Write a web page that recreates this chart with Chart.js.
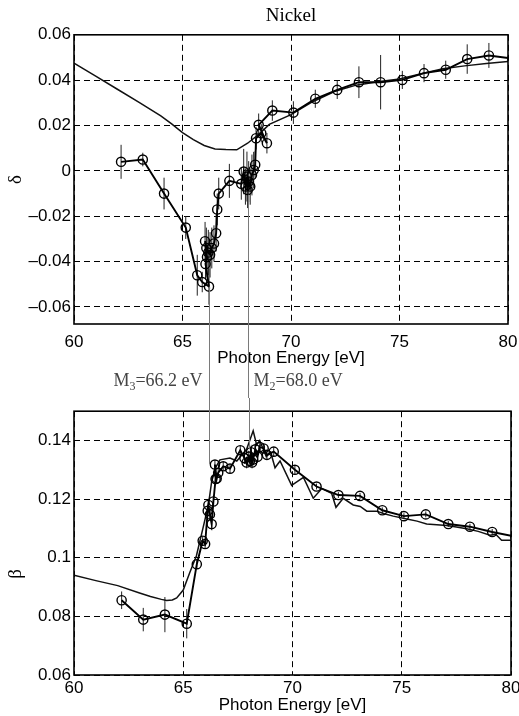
<!DOCTYPE html>
<html>
<head>
<meta charset="utf-8">
<script src="https://cdn.jsdelivr.net/npm/chart.js@4/dist/chart.umd.min.js"></script>
<style>
  html, body { margin: 0; padding: 0; background: #fff; }
  #wrap { position: relative; width: 519px; height: 716px; }
  #topChart { position: absolute; left: 0; top: 0; }
  #botChart { position: absolute; left: 0; top: 398px; }
</style>
</head>
<body>
<div id="wrap">
  <canvas id="topChart" width="519" height="398"></canvas>
  <canvas id="botChart" width="519" height="318"></canvas>
</div>
<script>
// photon energy axis (shared by both panels)
const energyTicks = [60, 65, 70, 75, 80];
const energyTickLabels = ['60', '65', '70', '75', '80'];

// delta panel
const deltaTicks = [-0.06, -0.04, -0.02, 0, 0.02, 0.04, 0.06];
const deltaTickLabels = ['\u20130.06', '\u20130.04', '\u20130.02', '0', '0.02', '0.04', '0.06'];
const deltaEnergy = [62.17, 63.17, 64.15, 65.15, 65.68, 65.91, 66.22, 66.06, 66.13, 66.04, 66.10, 66.19, 66.27, 66.35, 66.45, 66.55, 66.60, 66.67, 67.16, 67.71,
  67.82, 67.90, 67.97, 68.00, 68.05, 68.12, 68.20, 68.28, 68.35, 68.39, 68.63, 68.89, 68.51, 69.14, 70.11, 71.12, 72.13, 73.13, 74.13, 75.13,
  76.13, 77.13, 78.12, 79.12, 80.20];
const deltaValue = [0.0040, 0.0050, -0.0100, -0.0250, -0.0460, -0.0490, -0.0510, -0.0410, -0.0380, -0.0310, -0.0340, -0.0360, -0.0370, -0.0340, -0.0320, -0.0275, -0.0170, -0.0100, -0.0044, -0.0057,
  -0.0003, -0.0069, -0.0025, -0.0084, -0.0047, -0.0069, -0.0018, 0.0004, 0.0027, 0.0144, 0.0166, 0.0122, 0.0203, 0.0266, 0.0257, 0.0318, 0.0357, 0.0391, 0.0391, 0.0401,
  0.0431, 0.0446, 0.0493, 0.0509, 0.0495];
const deltaError = [0.0075, 0.0030, 0.0070, 0.0050, 0.0090, 0.0045, 0.0080, 0.0070, 0.0090, 0.0085, 0.0090, 0.0100, 0.0100, 0.0090, 0.0080, 0.0080, 0.0070, 0.0070, 0.0075, 0.0070,
  0.0100, 0.0080, 0.0110, 0.0080, 0.0090, 0.0080, 0.0090, 0.0080, 0.0060, 0.0050, 0.0040, 0.0045, 0.0050, 0.0045, 0.0050, 0.0040, 0.0040, 0.0070, 0.0120, 0.0040,
  0.0040, 0.0040, 0.0065, 0.0055, 0];
const deltaTheoryEnergy = [60, 61, 62, 63, 64, 64.5, 65, 65.5, 66, 66.5, 67, 67.5, 68, 68.5, 69, 70, 71, 72, 73, 74, 75, 76, 77, 78, 79, 80];
const deltaTheory = [0.0475, 0.0418, 0.0360, 0.0302, 0.0243, 0.0207, 0.0169, 0.0138, 0.0112, 0.0097, 0.0094, 0.0093, 0.0122, 0.0160, 0.0205, 0.0248, 0.0305, 0.0350, 0.0378, 0.0393,
  0.0405, 0.0428, 0.0450, 0.0463, 0.0473, 0.0482];

// beta panel
const betaTicks = [0.06, 0.08, 0.1, 0.12, 0.14];
const betaTickLabels = ['0.06', '0.08', '0.1', '0.12', '0.14'];
const betaEnergy = [62.18, 63.17, 64.16, 65.16, 65.62, 65.89, 66.00, 66.12, 66.15, 66.22, 66.30, 66.38, 66.48, 66.45, 66.53, 66.60, 66.83, 67.14, 67.61, 67.80,
  67.90, 68.00, 68.05, 68.10, 68.15, 68.20, 68.30, 68.40, 68.50, 68.68, 68.83, 69.14, 70.11, 71.10, 72.10, 73.09, 74.11, 75.10, 76.10, 77.13,
  78.12, 79.14, 80.20];
const betaValue = [0.0855, 0.0789, 0.0806, 0.0775, 0.0978, 0.1058, 0.1047, 0.1160, 0.1180, 0.1148, 0.1115, 0.1192, 0.1269, 0.1318, 0.1270, 0.1290, 0.1312, 0.1304, 0.1367, 0.1340,
  0.1325, 0.1345, 0.1330, 0.1360, 0.1325, 0.1335, 0.1370, 0.1345, 0.1378, 0.1373, 0.1351, 0.1362, 0.1300, 0.1243, 0.1214, 0.1211, 0.1162, 0.1142, 0.1148, 0.1115,
  0.1106, 0.1088, 0.1072];
const betaError = [0.0030, 0.0040, 0.0060, 0.0050, 0.0015, 0.0015, 0.0015, 0.0020, 0.0020, 0.0020, 0.0020, 0.0020, 0.0015, 0.0015, 0.0015, 0.0015, 0.0015, 0.0015, 0.0015, 0.0020,
  0.0020, 0.0020, 0.0020, 0.0020, 0.0020, 0.0020, 0.0020, 0.0020, 0.0015, 0.0015, 0.0015, 0.0015, 0.0015, 0.0010, 0.0010, 0.0010, 0.0010, 0.0010, 0.0010, 0.0010,
  0.0010, 0.0010, 0];
const betaTheoryEnergy = [60, 61, 62, 63, 63.5, 64, 64.24, 64.5, 64.7, 65, 65.3, 65.6, 65.9, 66.15, 66.3, 66.5, 66.68, 67.14, 67.45, 67.67,
  67.9, 68.2, 68.36, 68.5, 68.8, 69.0, 69.2, 69.43, 69.96, 70.5, 70.95, 71.34, 71.79, 71.99, 72.32, 72.78, 73.1, 73.4, 73.85, 74.2,
  74.61, 75.23, 75.7, 76.14, 76.6, 77.06, 77.5, 77.97, 78.5, 79.04, 79.3, 79.57, 80];
const betaTheory = [0.0940, 0.0922, 0.0905, 0.0880, 0.0868, 0.0858, 0.0854, 0.0856, 0.0863, 0.0890, 0.0950, 0.1006, 0.1100, 0.1180, 0.1260, 0.1310, 0.1334, 0.1340, 0.1330, 0.1350,
  0.1370, 0.1433, 0.1385, 0.1400, 0.1345, 0.1360, 0.1307, 0.1330, 0.1247, 0.1274, 0.1203, 0.1236, 0.1220, 0.1172, 0.1203, 0.1180, 0.1175, 0.1159, 0.1159, 0.1150,
  0.1142, 0.1132, 0.1125, 0.1115, 0.1113, 0.1110, 0.1105, 0.1099, 0.1090, 0.1077, 0.1080, 0.1060, 0.1060];

// M edges, marked with a grey line through both panels
const edgeEnergy = [66.2, 68.0];
const edgeSub = ['3', '2'];
const edgeDelta = [-0.051, -0.0105];
const edgeBeta = [0.132, 0.137];

const sans = "'Liberation Sans', Arial, Helvetica, sans-serif";
const serif = "'Liberation Serif', 'Times New Roman', serif";

const pts = (xs, ys) => xs.map((x, i) => ({ x, y: ys[i] }));

function energyAxis(pad, height) {
  return {
    type: 'linear', min: 60, max: 80,
    afterBuildTicks: s => { s.ticks = energyTicks.map(v => ({ value: v })); },
    afterFit: s => { s.height = height; s.paddingLeft = 0; s.paddingRight = 0; },
    ticks: { callback: (v, i) => energyTickLabels[i], color: '#000', padding: pad, maxRotation: 0, autoSkip: false,
             font: { family: sans, size: 17 } },
    grid: { color: '#000', lineWidth: 1, drawTicks: false },
    border: { display: false, dash: [6, 4] },
    title: { display: true, text: 'Photon Energy [eV]', color: '#000', font: { family: sans, size: 17 }, padding: { top: 0, bottom: 0 } }
  };
}

function valueAxis(min, max, ticks, labels, name) {
  return {
    type: 'linear', min, max,
    afterBuildTicks: s => { s.ticks = ticks.map(v => ({ value: v })); },
    afterFit: s => { s.width = 74; },
    ticks: { callback: (v, i) => labels[i], color: '#000', padding: 3, autoSkip: false, font: { family: sans, size: 17 } },
    grid: { color: '#000', lineWidth: 1, drawTicks: false },
    border: { display: false, dash: [6, 4] },
    title: { display: true, text: name, color: '#000', font: { family: serif, size: 19 }, padding: { top: 5, bottom: 0 } }
  };
}

function datasets(xs, ys, txs, tys) {
  return [
    { data: pts(xs, ys), showLine: true, borderColor: '#000', borderWidth: 1.9, tension: 0,
      pointRadius: 4.6, pointBorderWidth: 1.4, pointBorderColor: '#000', pointBackgroundColor: 'rgba(0,0,0,0)' },
    { data: pts(txs, tys), showLine: true, borderColor: '#111', borderWidth: 1.5, tension: 0, pointRadius: 0 }
  ];
}

// error bars + box frame
function errorBars(xs, ys, errs) {
  return {
    id: 'errorBars',
    beforeDatasetsDraw(chart) {
      const { ctx, chartArea: a, scales: { x, y } } = chart;
      ctx.save();
      ctx.beginPath(); ctx.rect(a.left, a.top, a.width, a.height); ctx.clip();
      ctx.strokeStyle = '#222'; ctx.lineWidth = 1;
      ctx.beginPath();
      xs.forEach((e, i) => {
        if (!errs[i]) return;
        const px = x.getPixelForValue(e);
        ctx.moveTo(px, y.getPixelForValue(ys[i] - errs[i]));
        ctx.lineTo(px, y.getPixelForValue(ys[i] + errs[i]));
      });
      ctx.stroke();
      ctx.restore();
    },
    afterDraw(chart) {
      const { ctx, chartArea: a } = chart;
      ctx.save();
      ctx.strokeStyle = '#000'; ctx.lineWidth = 1.6;
      ctx.strokeRect(a.left, a.top, a.width, a.height);
      ctx.restore();
    }
  };
}

// grey edge lines; topPanel draws down to the canvas bottom, the lower one from its top
function edgeLines(values, topPanel) {
  return {
    id: 'edgeLines',
    afterDraw(chart) {
      const { ctx, scales: { x, y }, chartArea: a } = chart;
      ctx.save();
      ctx.strokeStyle = '#7a7a7a'; ctx.lineWidth = 1;
      edgeEnergy.forEach((e, i) => {
        const px = Math.round(x.getPixelForValue(e)) + 0.5;
        const py = y.getPixelForValue(values[i]);
        ctx.beginPath();
        ctx.moveTo(px, topPanel ? py : 0);
        ctx.lineTo(px, topPanel ? chart.height : py);
        ctx.stroke();
      });
      if (topPanel) {
        const base = a.bottom + 62;
        ctx.fillStyle = '#444';
        ctx.textBaseline = 'alphabetic';
        edgeEnergy.forEach((e, i) => {
          const px = x.getPixelForValue(e);
          const rest = '=' + e.toFixed(1) + ' eV';
          ctx.font = '18px ' + serif;
          const wM = ctx.measureText('M').width, wR = ctx.measureText(rest).width;
          ctx.font = '12px ' + serif;
          const wS = ctx.measureText(edgeSub[i]).width;
          let sx = i === 0 ? px - 6 - (wM + wS + wR) : px + 6;
          ctx.font = '18px ' + serif;
          ctx.fillText('M', sx, base);
          ctx.font = '12px ' + serif;
          ctx.fillText(edgeSub[i], sx + wM, base + 4);
          ctx.font = '18px ' + serif;
          ctx.fillText(rest, sx + wM + wS, base);
        });
      }
      ctx.restore();
    }
  };
}

new Chart(document.getElementById('topChart'), {
  type: 'scatter',
  data: { datasets: datasets(deltaEnergy, deltaValue, deltaTheoryEnergy, deltaTheory) },
  options: {
    responsive: false, animation: false, events: [],
    layout: { padding: { left: 0, right: 11, top: 0, bottom: 29 } },
    plugins: {
      legend: { display: false }, tooltip: { enabled: false },
      title: { display: true, text: 'Nickel', fullSize: false, color: '#000', font: { family: serif, size: 19, weight: 'normal' },
               padding: { top: 5, bottom: 7 } }
    },
    scales: {
      x: energyAxis(8, 45),
      y: valueAxis(-0.0675, 0.06, deltaTicks, deltaTickLabels, '\u03b4')
    }
  },
  plugins: [errorBars(deltaEnergy, deltaValue, deltaError), edgeLines(edgeDelta, true)]
});

// beta label sits lower than the axis middle in the original; trailing spaces push it down
new Chart(document.getElementById('botChart'), {
  type: 'scatter',
  data: { datasets: datasets(betaEnergy, betaValue, betaTheoryEnergy, betaTheory) },
  options: {
    responsive: false, animation: false, events: [],
    layout: { padding: { left: 0, right: 8, top: 5, bottom: 0 } },
    plugins: { legend: { display: false }, tooltip: { enabled: false } },
    scales: {
      x: energyAxis(3, 41),
      y: valueAxis(0.06, 0.15, betaTicks, betaTickLabels, '\u03b2\u2003\u2003\u2003 ')
    }
  },
  plugins: [errorBars(betaEnergy, betaValue, betaError), edgeLines(edgeBeta, false)]
});
</script>
</body>
</html>
